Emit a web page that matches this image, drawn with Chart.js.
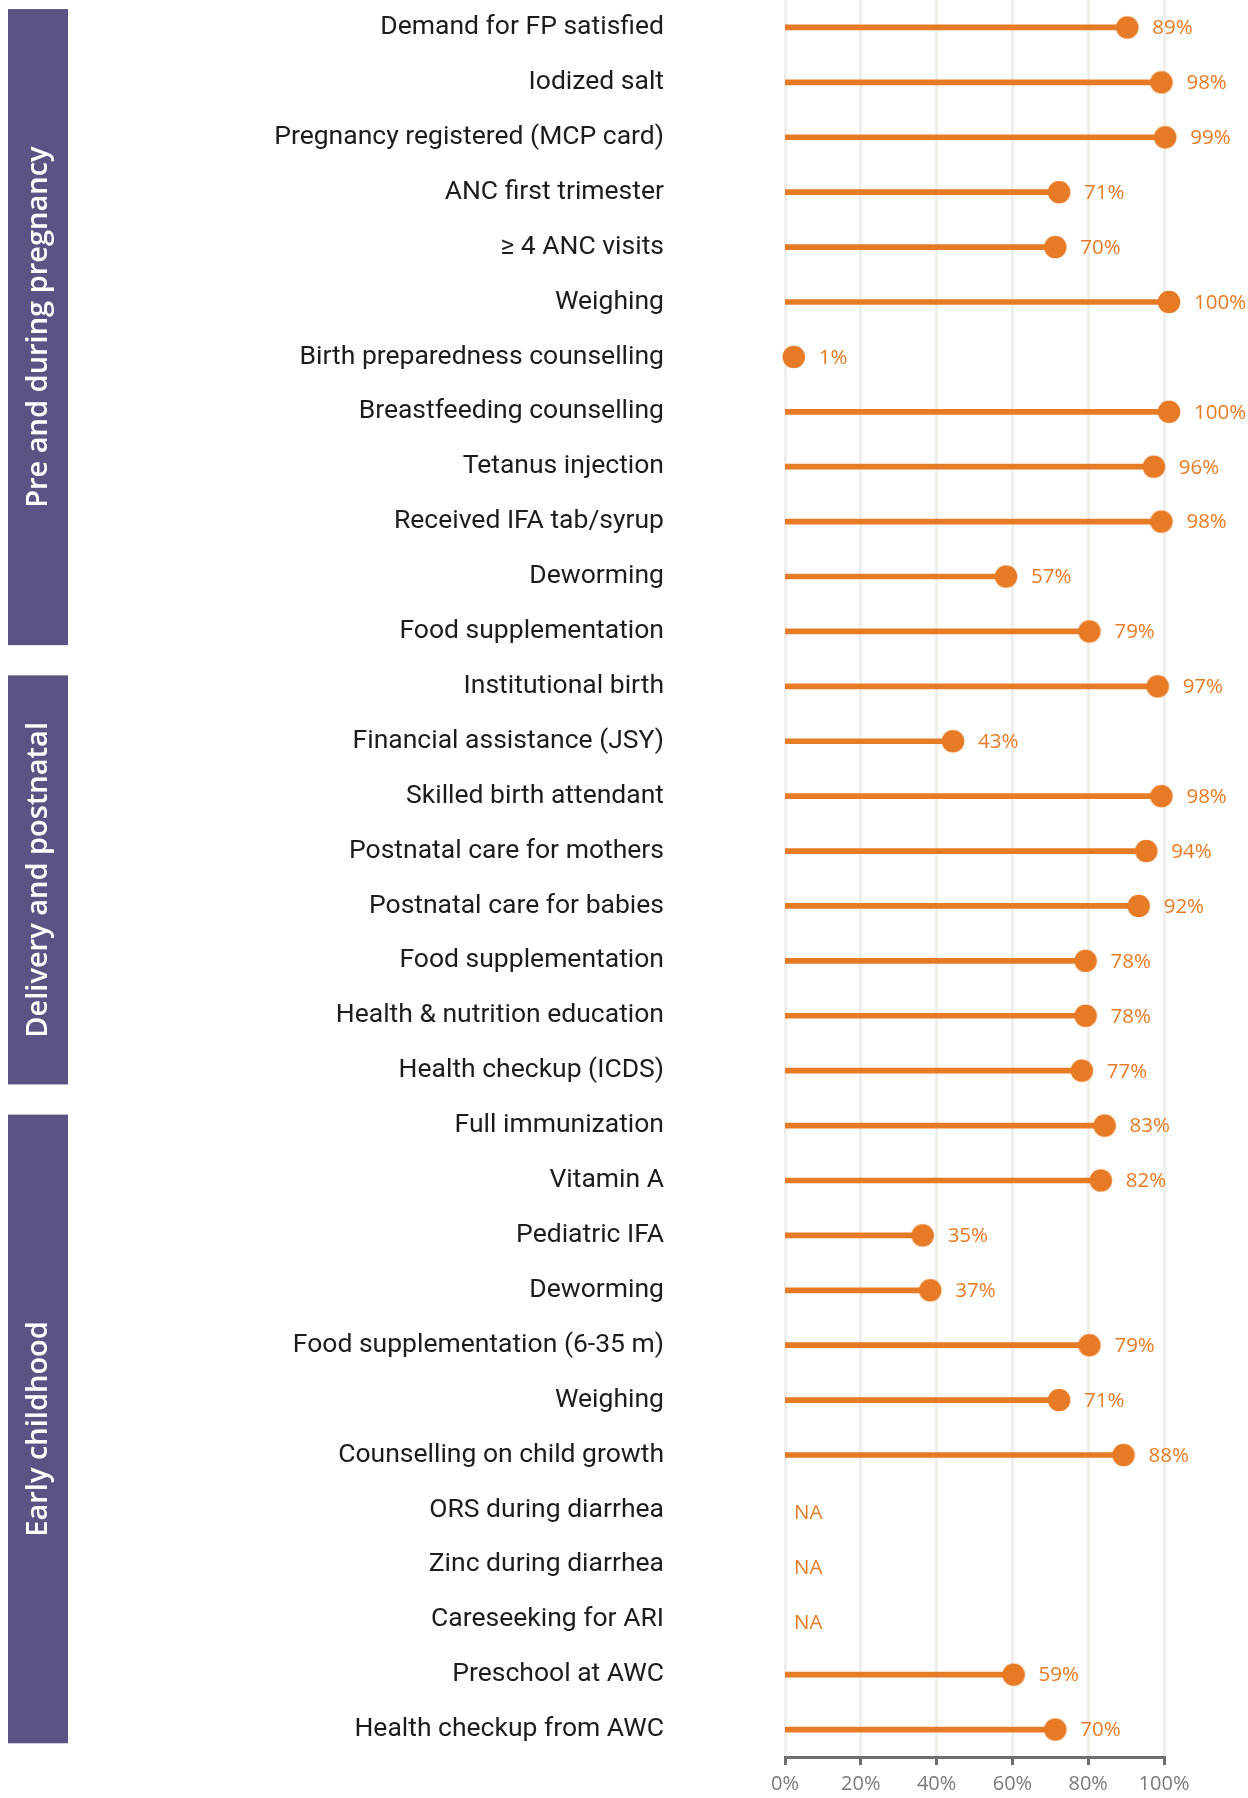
<!DOCTYPE html>
<html>
<head>
<meta charset="utf-8">
<script src="https://cdn.jsdelivr.net/npm/chart.js@4/dist/chart.umd.min.js"></script>
<style>
  html, body { margin: 0; padding: 0; background: #fff; }
  #wrap { width: 1248px; height: 1798px; position: relative; }
</style>
</head>
<body>
<div id="wrap"><canvas id="chart"></canvas></div>
<script>
// indicator names, top to bottom
const indicators = [
  'Demand for FP satisfied', 'Iodized salt', 'Pregnancy registered (MCP card)',
  'ANC first trimester', '\u2265 4 ANC visits', 'Weighing',
  'Birth preparedness counselling', 'Breastfeeding counselling', 'Tetanus injection',
  'Received IFA tab/syrup', 'Deworming', 'Food supplementation',
  'Institutional birth', 'Financial assistance (JSY)', 'Skilled birth attendant',
  'Postnatal care for mothers', 'Postnatal care for babies', 'Food supplementation',
  'Health & nutrition education', 'Health checkup (ICDS)',
  'Full immunization', 'Vitamin A', 'Pediatric IFA', 'Deworming',
  'Food supplementation (6-35 m)', 'Weighing', 'Counselling on child growth',
  'ORS during diarrhea', 'Zinc during diarrhea', 'Careseeking for ARI',
  'Preschool at AWC', 'Health checkup from AWC'
];

// coverage in percent, null = NA
const coverage = [
  89, 98, 99, 71, 70, 100, 1, 100, 96, 98, 57, 79,
  97, 43, 98, 94, 92, 78, 78, 77,
  83, 82, 35, 37, 79, 71, 88, null, null, null, 59, 70
];

// phase groups: name, first row, last row
const groupNames = ['Pre and during pregnancy', 'Delivery and postnatal', 'Early childhood'];
const groupStart = [0, 12, 20];
const groupEnd = [11, 19, 31];

const xTicks = [0, 20, 40, 60, 80, 100];

const orange = '#E77B25';
const purple = '#5C5384';

// the dots in the original sit a few px right of the grid, so the marker is drawn off-centre
const dotR = 11.3;
const dotShift = 5;
const dot = document.createElement('canvas');
dot.width = 2 * Math.ceil(dotR + dotShift + 1);
dot.height = 2 * Math.ceil(dotR + 1);
const dctx = dot.getContext('2d');
dctx.fillStyle = orange;
dctx.beginPath();
dctx.arc(dot.width / 2 + dotShift, dot.height / 2, dotR, 0, Math.PI * 2);
dctx.fill();

const groupBoxes = {
  id: 'groupBoxes',
  beforeDraw(chart) {
    const ctx = chart.ctx;
    const y = chart.scales.y;
    const step = y.getPixelForValue(1) - y.getPixelForValue(0);
    ctx.save();
    groupNames.forEach((name, i) => {
      const top = y.getPixelForValue(groupStart[i]) - step * (i === 0 ? 0.335 : 0.2);
      const bottom = y.getPixelForValue(groupEnd[i]) + step * 0.25;
      ctx.fillStyle = purple;
      ctx.fillRect(8, top, 60, bottom - top);
      ctx.translate(38, (top + bottom) / 2);
      ctx.rotate(-Math.PI / 2);
      ctx.fillStyle = '#ffffff';
      ctx.font = '600 29px "Open Sans"';
      ctx.textAlign = 'center';
      ctx.textBaseline = 'middle';
      ctx.fillText(name, 0, 1);
      ctx.setTransform(1, 0, 0, 1, 0, 0);
    });
    ctx.restore();
  }
};

const valueLabels = {
  id: 'valueLabels',
  afterDatasetsDraw(chart) {
    const ctx = chart.ctx;
    const x = chart.scales.x;
    const y = chart.scales.y;
    ctx.save();
    ctx.font = '20.5px "Open Sans"';
    ctx.fillStyle = orange;
    ctx.textAlign = 'left';
    ctx.textBaseline = 'middle';
    coverage.forEach((v, i) => {
      const py = y.getPixelForValue(i);
      if (v === null) {
        ctx.fillText('NA', x.getPixelForValue(0) + 9, py + 3);
      } else {
        ctx.fillText(v + '%', x.getPixelForValue(v) + 30, py + 1);
      }
    });
    ctx.restore();
  }
};

new Chart(document.getElementById('chart'), {
  data: {
    labels: indicators,
    datasets: [
      {
        type: 'bar',
        data: coverage,
        base: -0.5,
        backgroundColor: orange,
        barThickness: 5,
        borderWidth: 0,
        order: 2
      },
      {
        type: 'line',
        data: coverage,
        showLine: false,
        pointStyle: dot,
        pointRadius: dotR,
        pointHoverRadius: dotR,
        clip: false,
        order: 1
      }
    ]
  },
  options: {
    indexAxis: 'y',
    responsive: true,
    maintainAspectRatio: false,
    animation: false,
    layout: { autoPadding: false, padding: { left: 0, right: 84, top: 0, bottom: 0 } },
    plugins: {
      legend: { display: false },
      tooltip: { enabled: false }
    },
    scales: {
      x: {
        min: 0,
        max: 100,
        afterBuildTicks: (scale) => { scale.ticks = xTicks.map(v => ({ value: v })); },
        afterFit: (scale) => { scale.height = 41; },
        grid: {
          color: '#EFEEEA',
          lineWidth: 3,
          drawTicks: true,
          tickLength: 8,
          tickColor: '#6f6f6f',
          tickWidth: 3
        },
        border: { color: '#6f6f6f', width: 3 },
        ticks: {
          padding: 7,
          maxRotation: 0,
          color: '#7a7a7a',
          font: { family: 'Open Sans', size: 20 },
          callback: (v) => v + '%'
        }
      },
      y: {
        type: 'category',
        offset: true,
        afterFit: (scale) => {
          scale.width = 785;
          scale.paddingTop = 0;
          scale.paddingBottom = 0;
        },
        grid: { display: false, drawTicks: false },
        border: { display: false },
        ticks: {
          padding: 121,
          color: '#1c1c1c',
          font: { family: 'Roboto', size: 26.5 },
          autoSkip: false
        }
      }
    }
  },
  plugins: [groupBoxes, valueLabels]
});
</script>
</body>
</html>
